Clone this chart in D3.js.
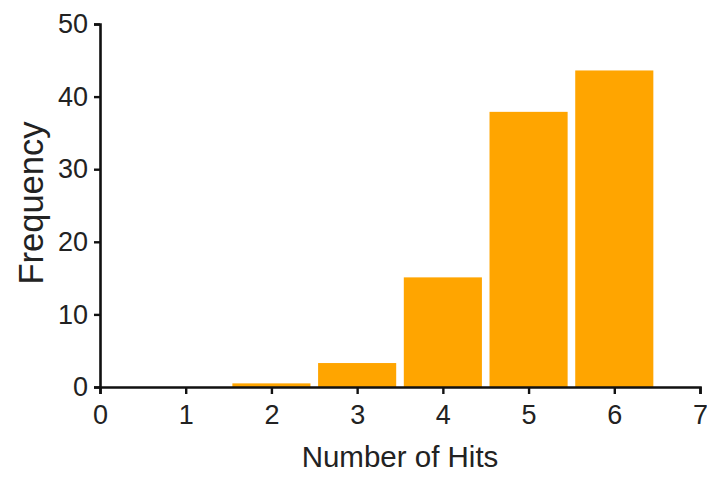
<!DOCTYPE html>
<html>
<head>
<meta charset="utf-8">
<script src="https://cdn.jsdelivr.net/npm/d3@7"></script>
<style>
  body { margin: 0; background: #fff; }
  svg { display: block; }
</style>
</head>
<body>
<svg id="chart" width="707" height="477"></svg>
<script>
const hits = [2, 3, 4, 5, 6];
const freq = [0.5, 3.3, 15.1, 37.9, 43.6];
const xTicks = [0, 1, 2, 3, 4, 5, 6, 7];
const yTicks = [0, 10, 20, 30, 40, 50];

const W = 707, H = 477;
const m = { top: 24, right: 7, bottom: 90, left: 100 };
const FONT = "Arial, 'Liberation Sans', Helvetica, sans-serif";

const svg = d3.select("#chart");

const x = d3.scaleLinear().domain([0, 7]).range([m.left, W - m.right]);
const y = d3.scaleLinear().domain([0, 50]).range([H - m.bottom, m.top]);

// Bars
const pad = 3.8;
svg.append("g").selectAll("rect").data(hits).join("rect")
  .attr("x", (d) => x(d - 0.5) + pad)
  .attr("width", (d) => x(d + 0.5) - x(d - 0.5) - 2 * pad)
  .attr("y", (d, i) => y(freq[i]))
  .attr("height", (d, i) => y(0) - y(freq[i]))
  .attr("fill", "#ffa500");

// X axis
svg.append("g")
  .attr("transform", `translate(0,${y(0)})`)
  .call(d3.axisBottom(x).tickValues(xTicks).tickFormat(d3.format("d")).tickSizeOuter(0).tickSize(7).tickPadding(11))
  .call(ax => {
    ax.select(".domain").attr("stroke", "#111").attr("stroke-width", 2.6);
    ax.selectAll(".tick line").attr("stroke", "#111").attr("stroke-width", 2.4);
    ax.selectAll(".tick text").style("fill", "#222").style("font-size", "27px").style("font-family", FONT);
  });

// Y axis
svg.append("g")
  .attr("transform", `translate(${x(0)},0)`)
  .call(d3.axisLeft(y).tickValues(yTicks).tickSizeOuter(0).tickSize(6).tickPadding(6))
  .call(ax => {
    ax.select(".domain").attr("stroke", "#111").attr("stroke-width", 2.6);
    ax.selectAll(".tick line").attr("stroke", "#111").attr("stroke-width", 2.4);
    ax.selectAll(".tick text").style("fill", "#222").style("font-size", "27px").style("font-family", FONT);
  });

// Axis titles
svg.append("text")
  .attr("x", 400).attr("y", 467)
  .attr("text-anchor", "middle")
  .style("fill", "#222").style("font-size", "29.5px").style("font-family", FONT)
  .text("Number of Hits");

svg.append("text")
  .attr("transform", "translate(43,203) rotate(-90)")
  .attr("text-anchor", "middle")
  .style("fill", "#222").style("font-size", "34.5px").style("font-family", FONT)
  .text("Frequency");
</script>
</body>
</html>
